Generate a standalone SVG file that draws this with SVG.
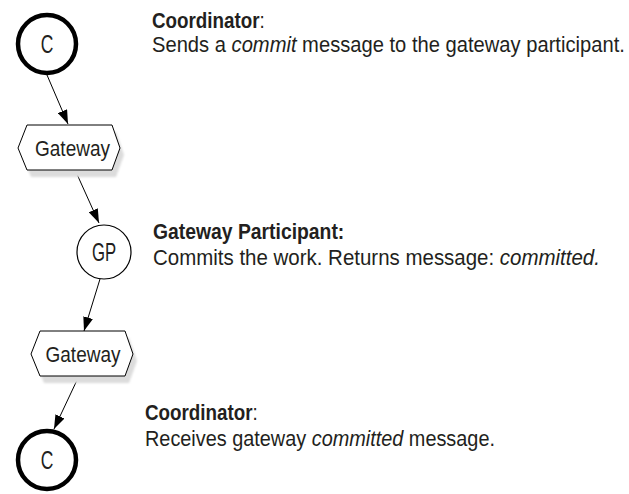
<svg xmlns="http://www.w3.org/2000/svg" width="629" height="494" viewBox="0 0 629 494">
<style>
text{font-family:"Liberation Sans",Arial,sans-serif;fill:#231f20}
.lbl{font-size:22px;text-anchor:middle}
.big{font-size:25px;text-anchor:middle}
.desc{font-size:22.5px}
.b{font-weight:bold}
.i{font-style:italic}
.edge{stroke:#000;stroke-width:1;fill:none;marker-end:url(#ah)}
.hex{fill:#fff;stroke:#000;stroke-width:1;stroke-linejoin:round}
.shadow{fill:#dcdcdc;filter:url(#blur)}
</style>
<defs>
<marker id="ah" viewBox="0 0 14 10" refX="14" refY="5" markerWidth="14" markerHeight="10" markerUnits="userSpaceOnUse" orient="auto">
<path d="M0,0 L14,5 L0,10 z" fill="#000"/>
</marker>
<filter id="blur" x="-10%" y="-20%" width="120%" height="140%"><feGaussianBlur stdDeviation="1.2"/></filter>
</defs>
<g id="connectors">
<line class="edge" x1="47" y1="75" x2="68" y2="124"/>
<line class="edge" x1="76" y1="172" x2="99" y2="223"/>
<line class="edge" x1="100" y1="279" x2="84" y2="331"/>
<line class="edge" x1="78" y1="378" x2="54" y2="429"/>
</g>
<g id="node-c1">
<circle cx="47" cy="44" r="29" fill="#fff" stroke="#000" stroke-width="4.5"/>
<text class="big" transform="translate(47,53) scale(0.7,1)">C</text>
</g>
<g id="node-gw1">
<polygon class="shadow" points="31,132 116,132 124,155 116,177 31,177 22,155"/>
<polygon class="hex" points="27,125 112,125 120,148 112,170 27,170 18,148"/>
<text class="lbl" transform="translate(72.5,155.5) scale(0.864,1)">Gateway</text>
</g>
<g id="node-gp">
<circle cx="104" cy="252" r="27" fill="#fff" stroke="#000" stroke-width="1.2"/>
<text class="big" transform="translate(104,260.5) scale(0.67,1)">GP</text>
</g>
<g id="node-gw2">
<polygon class="shadow" points="44,338 129,338 137,361 129,383 44,383 35,361"/>
<polygon class="hex" points="40,331 125,331 133,354 125,376 40,376 31,354"/>
<text class="lbl" transform="translate(83,361.5) scale(0.864,1)">Gateway</text>
</g>
<g id="node-c2">
<circle cx="47" cy="460" r="29" fill="#fff" stroke="#000" stroke-width="4.5"/>
<text class="big" transform="translate(47,469) scale(0.7,1)">C</text>
</g>
<g id="desc1">
<text class="desc" transform="translate(152,28) scale(0.836,1)"><tspan class="b">Coordinator</tspan>:</text>
<text class="desc" transform="translate(152,52) scale(0.896,1)">Sends a <tspan class="i">commit</tspan> message to the gateway participant.</text>
</g>
<g id="desc2">
<text class="desc b" transform="translate(153,239) scale(0.86,1)">Gateway Participant:</text>
<text class="desc" transform="translate(153,265) scale(0.91,1)">Commits the work. Returns message: <tspan class="i">committed.</tspan></text>
</g>
<g id="desc3">
<text class="desc" transform="translate(145,420) scale(0.836,1)"><tspan class="b">Coordinator</tspan>:</text>
<text class="desc" transform="translate(145,446) scale(0.883,1)">Receives gateway <tspan class="i">committed</tspan> message.</text>
</g>
</svg>
